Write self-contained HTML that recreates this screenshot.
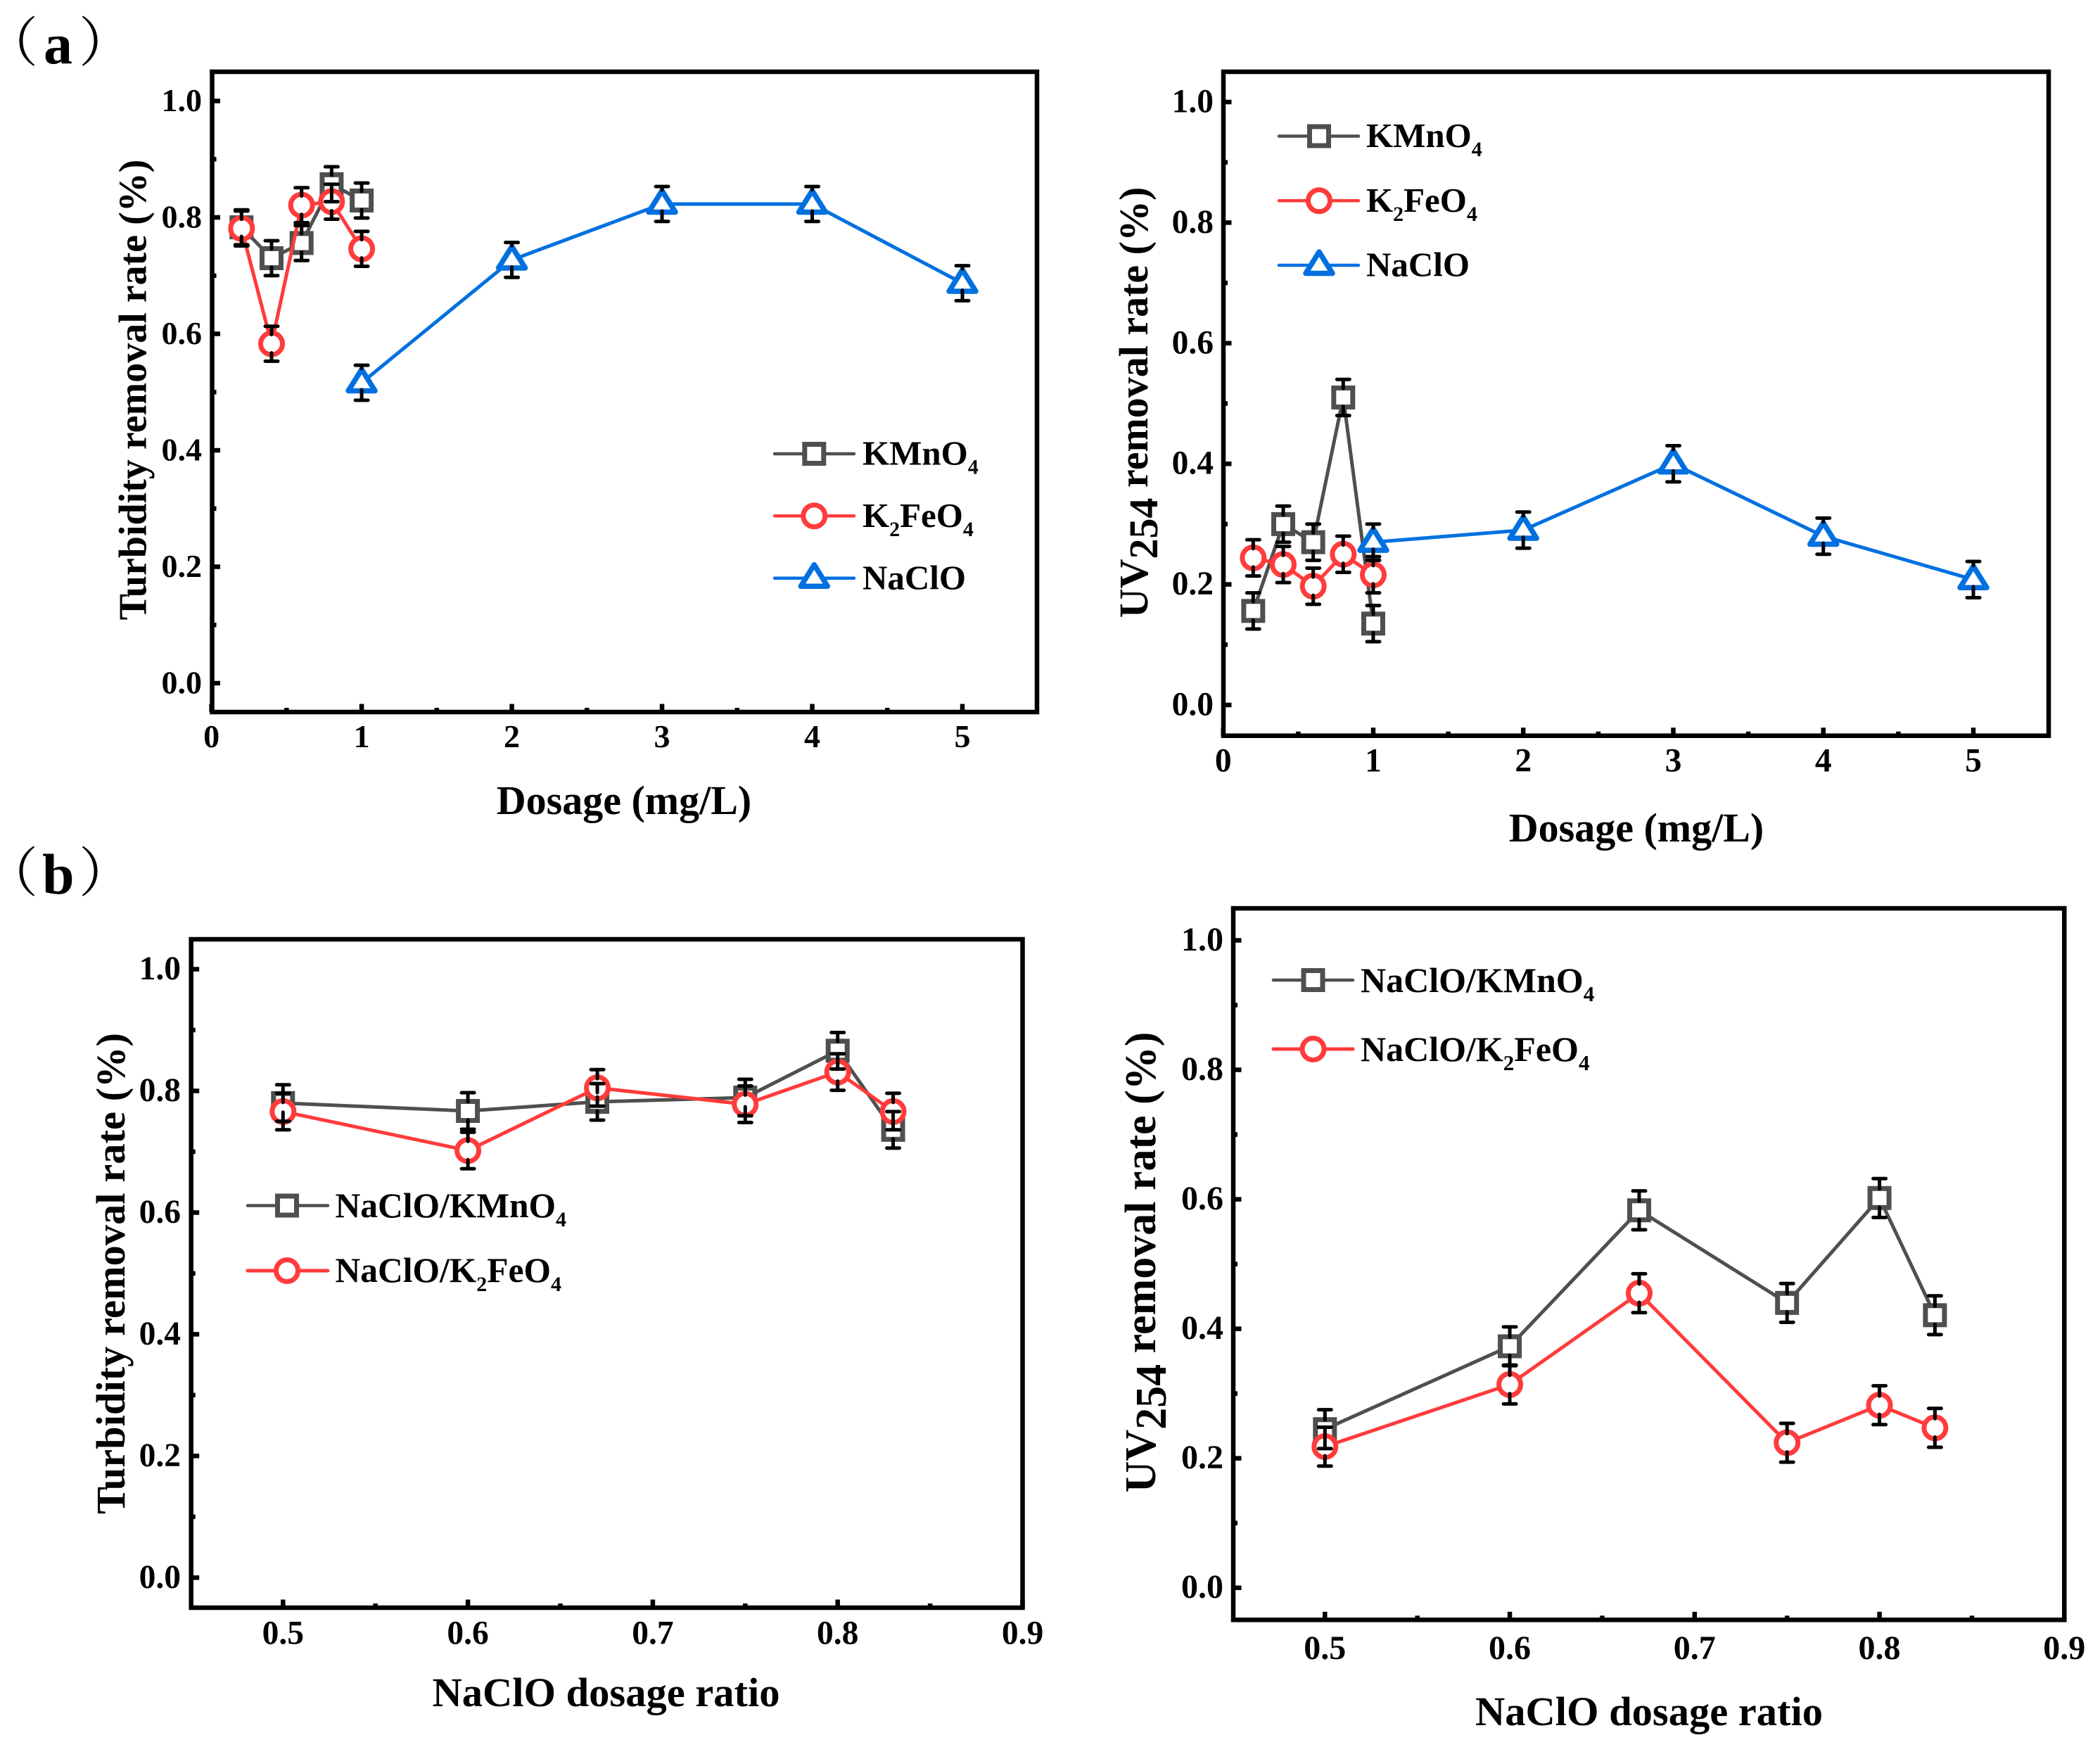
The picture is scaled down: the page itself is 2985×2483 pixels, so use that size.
<!DOCTYPE html>
<html lang="en">
<head>
<meta charset="utf-8">
<title>Removal rate charts</title>
<style>
html,body{margin:0;padding:0;background:#fff;}
svg{display:block;}
text{font-family:"Liberation Serif","Noto Serif CJK SC",serif;font-weight:bold;fill:#000;}
.paren{font-family:"Noto Serif CJK SC","Liberation Serif",serif;font-weight:400;}
</style>
</head>
<body>
<svg id="figure" xmlns="http://www.w3.org/2000/svg" width="2985" height="2483" viewBox="0 0 2985 2483">
<rect width="2985" height="2483" fill="#fff"/>

<g>
<text class="paren" x="-22" y="87" font-size="76">（</text>
<text x="62" y="90" font-size="82">a</text>
<text class="paren" x="112" y="87" font-size="76">）</text>
</g>
<g>
<text class="paren" x="-22" y="1267" font-size="76">（</text>
<text x="60" y="1270" font-size="82">b</text>
<text class="paren" x="112" y="1267" font-size="76">）</text>
</g>

<g id="a1"></g>
<g id="a2"></g>
<g id="b1"></g>
<g id="b2"></g>

<text x="887" y="1157" font-size="58" text-anchor="middle">Dosage (mg/L)</text>
<text transform="translate(207.5,554) rotate(-90)" font-size="56" text-anchor="middle">Turbidity removal rate (%)</text>
<text x="2326" y="1196" font-size="58" text-anchor="middle">Dosage (mg/L)</text>
<text transform="translate(1631,572) rotate(-90)" font-size="58" text-anchor="middle">UV<tspan dy="14">254</tspan><tspan dy="-14"> removal rate (%)</tspan></text>
<text x="861.5" y="2425" font-size="58.5" text-anchor="middle">NaClO dosage ratio</text>
<text transform="translate(177,1810) rotate(-90)" font-size="58.5" text-anchor="middle">Turbidity removal rate (%)</text>
<text x="2344" y="2452" font-size="58.5" text-anchor="middle">NaClO dosage ratio</text>
<text transform="translate(1642,1794) rotate(-90)" font-size="62" text-anchor="middle">UV<tspan dy="15">254</tspan><tspan dy="-15"> removal rate (%)</tspan></text>

<!-- legend a1 -->
<g>
<g>
<line x1="1101" x2="1214" y1="645" y2="645" stroke="#4f4f4f" stroke-width="4.5" stroke-linecap="round"/>
<rect x="1143.8" y="631.5" width="27" height="27" fill="#fff" stroke="#4f4f4f" stroke-width="7"/>
<text x="1226" y="660.7" font-size="49">KMnO<tspan font-size="30" dy="13">4</tspan></text>
</g>
<g>
<line x1="1101" x2="1214" y1="733.3" y2="733.3" stroke="#ff3b3b" stroke-width="4.5" stroke-linecap="round"/>
<circle cx="1157.3" cy="733.3" r="15.5" fill="#fff" stroke="#ff3b3b" stroke-width="7"/>
<text x="1226" y="749" font-size="49">K<tspan font-size="30" dy="13">2</tspan><tspan dy="-13">FeO</tspan><tspan font-size="30" dy="13">4</tspan></text>
</g>
<g>
<line x1="1101" x2="1214" y1="821.7" y2="821.7" stroke="#0070e0" stroke-width="4.5" stroke-linecap="round"/>
<path d="M1157.3 802.7L1176.3 833.2L1138.3 833.2Z" fill="#fff" stroke="#0070e0" stroke-width="7.5" stroke-linejoin="round"/>
<text x="1226" y="837.3" font-size="49">NaClO</text>
</g>
</g>
<!-- legend a2 -->
<g>
<g>
<line x1="1818" x2="1931" y1="193.5" y2="193.5" stroke="#4f4f4f" stroke-width="4.5" stroke-linecap="round"/>
<rect x="1861.5" y="180" width="27" height="27" fill="#fff" stroke="#4f4f4f" stroke-width="7"/>
<text x="1942" y="209.2" font-size="49">KMnO<tspan font-size="30" dy="13">4</tspan></text>
</g>
<g>
<line x1="1818" x2="1931" y1="285.3" y2="285.3" stroke="#ff3b3b" stroke-width="4.5" stroke-linecap="round"/>
<circle cx="1875" cy="285.3" r="15.5" fill="#fff" stroke="#ff3b3b" stroke-width="7"/>
<text x="1942" y="301" font-size="49">K<tspan font-size="30" dy="13">2</tspan><tspan dy="-13">FeO</tspan><tspan font-size="30" dy="13">4</tspan></text>
</g>
<g>
<line x1="1818" x2="1931" y1="377" y2="377" stroke="#0070e0" stroke-width="4.5" stroke-linecap="round"/>
<path d="M1875 358L1894 388.5L1856 388.5Z" fill="#fff" stroke="#0070e0" stroke-width="7.5" stroke-linejoin="round"/>
<text x="1942" y="392.7" font-size="49">NaClO</text>
</g>
</g>
<!-- legend b1 -->
<g>
<g>
<line x1="352" x2="466" y1="1713.5" y2="1713.5" stroke="#4f4f4f" stroke-width="4.5" stroke-linecap="round"/>
<rect x="394.5" y="1700" width="27" height="27" fill="#fff" stroke="#4f4f4f" stroke-width="7"/>
<text x="476.5" y="1730" font-size="49.5">NaClO/KMnO<tspan font-size="30" dy="13">4</tspan></text>
</g>
<g>
<line x1="352" x2="466" y1="1806" y2="1806" stroke="#ff3b3b" stroke-width="5" stroke-linecap="round"/>
<circle cx="408" cy="1806" r="15.5" fill="#fff" stroke="#ff3b3b" stroke-width="7"/>
<text x="476.5" y="1822" font-size="49.5">NaClO/K<tspan font-size="30" dy="13">2</tspan><tspan dy="-13">FeO</tspan><tspan font-size="30" dy="13">4</tspan></text>
</g>
</g>
<!-- legend b2 -->
<g>
<g>
<line x1="1810" x2="1923" y1="1393" y2="1393" stroke="#4f4f4f" stroke-width="4.5" stroke-linecap="round"/>
<rect x="1853" y="1379.5" width="27" height="27" fill="#fff" stroke="#4f4f4f" stroke-width="7"/>
<text x="1934" y="1410" font-size="50">NaClO/KMnO<tspan font-size="31" dy="13">4</tspan></text>
</g>
<g>
<line x1="1810" x2="1923" y1="1491" y2="1491" stroke="#ff3b3b" stroke-width="5" stroke-linecap="round"/>
<circle cx="1866.5" cy="1491" r="15.5" fill="#fff" stroke="#ff3b3b" stroke-width="7"/>
<text x="1934" y="1508" font-size="50">NaClO/K<tspan font-size="31" dy="13">2</tspan><tspan dy="-13">FeO</tspan><tspan font-size="31" dy="13">4</tspan></text>
</g>
</g>
</svg>

<script>
// ---- chart data ----
const dosageLow = [0.2, 0.4, 0.6, 0.8, 1];
const dosageHigh = [1, 2, 3, 4, 5];
const ratios = [0.5, 0.6, 0.67, 0.75, 0.8, 0.83];

const dosageTickValues = [0, 1, 2, 3, 4, 5];
const dosageMinorTicks = [0.5, 1.5, 2.5, 3.5, 4.5];
const ratioTickValues = [0.5, 0.6, 0.7, 0.8, 0.9];
const ratioMinorTicks = [0.55, 0.65, 0.75, 0.85];
const rateTickValues = [0, 0.2, 0.4, 0.6, 0.8, 1];
const rateMinorTicks = [0.1, 0.3, 0.5, 0.7, 0.9];

const errorHalf = 0.03;

const a1KMnO4 = [0.783, 0.73, 0.756, 0.857, 0.829];
const a1K2FeO4 = [0.781, 0.583, 0.821, 0.827, 0.746];
const a1NaClO = [0.516, 0.727, 0.823, 0.823, 0.687];

const a2KMnO4 = [0.156, 0.30, 0.27, 0.51, 0.135];
const a2K2FeO4 = [0.244, 0.233, 0.197, 0.25, 0.216];
const a2NaClO = [0.27, 0.29, 0.40, 0.28, 0.208];

const b1KMnO4 = [0.78, 0.767, 0.782, 0.789, 0.866, 0.736];
const b1K2FeO4 = [0.766, 0.702, 0.805, 0.778, 0.831, 0.766];

const b2KMnO4 = [0.245, 0.373, 0.583, 0.44, 0.602, 0.421];
const b2K2FeO4 = [0.218, 0.314, 0.455, 0.224, 0.282, 0.247];

// ---- drawing ----
const NS = 'http://www.w3.org/2000/svg';
const COLORS = {square: '#4f4f4f', circle: '#ff3b3b', triangle: '#0070e0'};

function make(parent, tag, attrs) {
  const el = document.createElementNS(NS, tag);
  for (const k in attrs) el.setAttribute(k, attrs[k]);
  parent.appendChild(el);
  return el;
}

function drawChart(opt) {
  const root = document.getElementById(opt.id);
  const xScale = v => opt.xp0 + (v - opt.xd0) * (opt.xp1 - opt.xp0) / (opt.xd1 - opt.xd0);
  const yScale = v => opt.yp0 + v * (opt.yp1 - opt.yp0);

  opt.xMinor.forEach(v => {
    const t = make(root, 'line', {x1: xScale(v), x2: xScale(v), y1: opt.bottom, y2: opt.bottom - 6, stroke: '#000', 'stroke-width': 6.5});
    
    
  });
  opt.xTicks.forEach(v => {
    const t = make(root, 'line', {x1: xScale(v), x2: xScale(v), y1: opt.bottom, y2: opt.bottom - 11.5, stroke: '#000', 'stroke-width': 6.5});
    
    
    const l = make(root, 'text', {x: xScale(v), y: opt.xLabelY, 'font-size': opt.tickFont, 'text-anchor': 'middle'});
    
    
    l.textContent = opt.xFormat(v);
  });
  rateMinorTicks.forEach(v => {
    const t = make(root, 'line', {x1: opt.left, x2: opt.left + 6, y1: yScale(v), y2: yScale(v), stroke: '#000', 'stroke-width': 6.5});
    
    
  });
  rateTickValues.forEach(v => {
    const t = make(root, 'line', {x1: opt.left, x2: opt.left + 11.5, y1: yScale(v), y2: yScale(v), stroke: '#000', 'stroke-width': 6.5});
    
    
    const l = make(root, 'text', {x: opt.yLabelX, y: yScale(v) + 14.5, 'font-size': opt.tickFont, 'text-anchor': 'end'});
    
    
    l.textContent = v.toFixed(1);
  });

  const frame = make(root, 'rect', {x: opt.left, y: opt.top, width: opt.right - opt.left, height: opt.bottom - opt.top, fill: 'none', stroke: '#000', 'stroke-width': 6.5});
  
  

  opt.series.forEach(s => {
    const color = COLORS[s.marker];
    const pts = s.values.map((v, i) => [xScale(s.xs[i]), yScale(v)]);
    const line = make(root, 'polyline', {points: pts.map(p => p.join(',')).join(' '), fill: 'none', stroke: color, 'stroke-width': opt.lineWidth, 'stroke-linejoin': 'round'});
    
    
    pts.forEach(p => {
      let m;
      if (s.marker === 'square') {
        m = make(root, 'rect', {x: p[0] - 13.5, y: p[1] - 13.5, width: 27, height: 27, fill: '#fff', stroke: color, 'stroke-width': 7});
      } else if (s.marker === 'circle') {
        m = make(root, 'circle', {cx: p[0], cy: p[1], r: 15.5, fill: '#fff', stroke: color, 'stroke-width': 7});
      } else {
        m = make(root, 'path', {d: 'M' + p[0] + ' ' + (p[1] - 19) + 'L' + (p[0] + 19) + ' ' + (p[1] + 11.5) + 'L' + (p[0] - 19) + ' ' + (p[1] + 11.5) + 'Z', fill: '#fff', stroke: color, 'stroke-width': 7.5, 'stroke-linejoin': 'round'});
      }
      
      
    });
  });

  opt.series.forEach(s => {
    const inUp = s.marker === 'triangle' ? 20 : 13;
    const inDown = s.marker === 'triangle' ? 10 : 13;
    s.values.forEach((v, i) => {
      const px = xScale(s.xs[i]);
      const py = yScale(v);
      const topY = yScale(v + errorHalf);
      const botY = yScale(v - errorHalf);
      const g = make(root, 'path', {
        d: 'M' + (px - 9) + ' ' + topY + 'H' + (px + 9) + 'M' + px + ' ' + topY + 'V' + Math.min(py - inUp, topY + 40) +
           'M' + (px - 9) + ' ' + botY + 'H' + (px + 9) + 'M' + px + ' ' + botY + 'V' + Math.max(py + inDown, botY - 40),
        fill: 'none', stroke: '#000', 'stroke-width': 5, 'stroke-linecap': 'round'
      });
      
      
    });
  });
}

drawChart({
  id: 'a1', left: 301.5, right: 1474, top: 102, bottom: 1012,
  xd0: 0, xd1: 5, xp0: 300.6, xp1: 1368, yp0: 971, yp1: 143.5,
  xTicks: dosageTickValues, xMinor: dosageMinorTicks, xFormat: v => String(v),
  xLabelY: 1062, yLabelX: 287, tickFont: 46, lineWidth: 5,
  series: [
    {name: 'kmno4', marker: 'square', xs: dosageLow, values: a1KMnO4},
    {name: 'k2feo4', marker: 'circle', xs: dosageLow, values: a1K2FeO4},
    {name: 'naclo', marker: 'triangle', xs: dosageHigh, values: a1NaClO}
  ]
});
drawChart({
  id: 'a2', left: 1739, right: 2912, top: 102, bottom: 1045.7,
  xd0: 0, xd1: 5, xp0: 1738.7, xp1: 2805, yp0: 1002, yp1: 145,
  xTicks: dosageTickValues, xMinor: dosageMinorTicks, xFormat: v => String(v),
  xLabelY: 1096.7, yLabelX: 1725, tickFont: 47.5, lineWidth: 5,
  series: [
    {name: 'kmno4', marker: 'square', xs: dosageLow, values: a2KMnO4},
    {name: 'k2feo4', marker: 'circle', xs: dosageLow, values: a2K2FeO4},
    {name: 'naclo', marker: 'triangle', xs: dosageHigh, values: a2NaClO}
  ]
});
drawChart({
  id: 'b1', left: 271.7, right: 1453.5, top: 1335, bottom: 2285,
  xd0: 0.5, xd1: 0.9, xp0: 402.3, xp1: 1453.5, yp0: 2242.3, yp1: 1377.5,
  xTicks: ratioTickValues, xMinor: ratioMinorTicks, xFormat: v => v.toFixed(1),
  xLabelY: 2336.7, yLabelX: 257, tickFont: 47.5, lineWidth: 5,
  series: [
    {name: 'naclo-kmno4', marker: 'square', xs: ratios, values: b1KMnO4},
    {name: 'naclo-k2feo4', marker: 'circle', xs: ratios, values: b1K2FeO4}
  ]
});
drawChart({
  id: 'b2', left: 1753, right: 2934.3, top: 1291, bottom: 2302.3,
  xd0: 0.5, xd1: 0.9, xp0: 1883.3, xp1: 2934.3, yp0: 2256.7, yp1: 1336.5,
  xTicks: ratioTickValues, xMinor: ratioMinorTicks, xFormat: v => v.toFixed(1),
  xLabelY: 2358, yLabelX: 1739, tickFont: 48, lineWidth: 5,
  series: [
    {name: 'naclo-kmno4', marker: 'square', xs: ratios, values: b2KMnO4},
    {name: 'naclo-k2feo4', marker: 'circle', xs: ratios, values: b2K2FeO4}
  ]
});
</script>
</body>
</html>
